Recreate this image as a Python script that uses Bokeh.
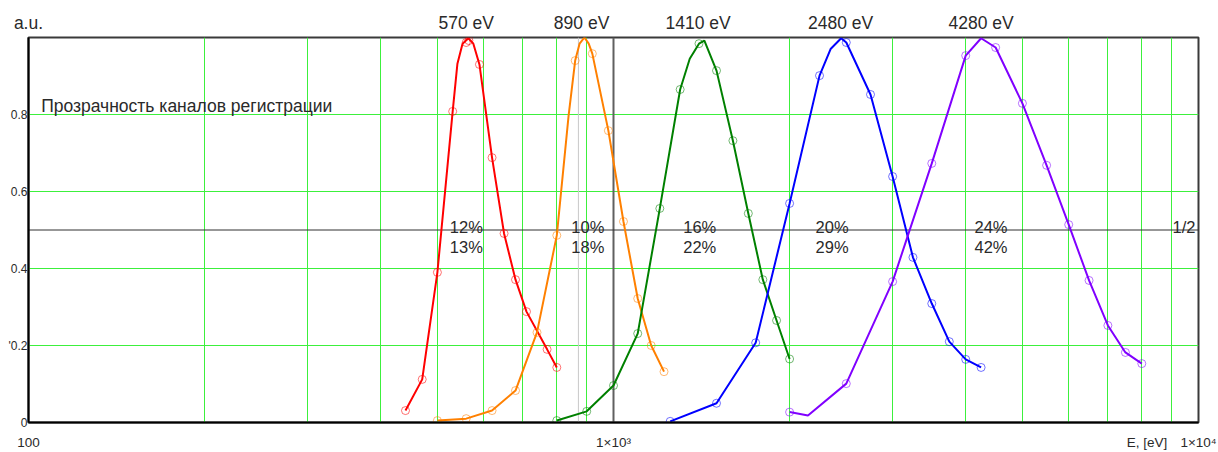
from bokeh.plotting import figure
from bokeh.models import Range1d, FixedTicker, Span, Label, LogAxis
from bokeh.embed import file_html
from bokeh.resources import INLINE
from bokeh.core.properties import value

# ---------------- data ----------------
# measured channel points (markers): energy [eV], transmission [a.u.]
red_E = [441, 471, 500, 531, 560, 566, 590, 620, 650, 680, 710, 770, 800]
red_T = [0.031, 0.112, 0.390, 0.808, 0.987, 0.992, 0.930, 0.688, 0.491, 0.371, 0.288, 0.190, 0.143]

orange_E = [500, 560, 620, 680, 740, 800, 860, 920, 980, 1040, 1100, 1160, 1220]
orange_T = [0.005, 0.010, 0.031, 0.083, 0.234, 0.486, 0.940, 0.958, 0.758, 0.522, 0.322, 0.200, 0.132]

green_E = [800, 900, 1000, 1100, 1200, 1300, 1400, 1500, 1600, 1700, 1800, 1900, 2000]
green_T = [0.005, 0.029, 0.096, 0.231, 0.556, 0.865, 0.984, 0.914, 0.732, 0.543, 0.371, 0.265, 0.165]

blue_E = [1250, 1500, 1750, 2000, 2250, 2500, 2750, 3000, 3250, 3500, 3750, 4000, 4250]
blue_T = [0.003, 0.050, 0.207, 0.569, 0.901, 0.987, 0.852, 0.639, 0.429, 0.309, 0.210, 0.164, 0.143]

violet_E = [2000, 2500, 3000, 3500, 4000, 4500, 5000, 5500, 6000, 6500, 7000, 7500, 8000]
violet_T = [0.027, 0.101, 0.366, 0.673, 0.953, 0.974, 0.829, 0.668, 0.514, 0.369, 0.252, 0.182, 0.153]

# smooth curves as traced on the picture (markers + extra traced points)
red_curve_E = [441, 471, 500, 531, 541, 552, 565, 576, 590, 620, 650, 680, 710, 770, 800]
red_curve_T = [0.031, 0.112, 0.390, 0.808, 0.932, 0.984, 0.998, 0.984, 0.930, 0.688, 0.491, 0.371, 0.288, 0.190, 0.143]

orange_curve_E = [500, 560, 620, 680, 740, 800, 838, 860, 875, 892, 907, 920, 980, 1040, 1100, 1160, 1220]
orange_curve_T = [0.005, 0.010, 0.031, 0.083, 0.234, 0.486, 0.797, 0.940, 0.984, 1.0, 0.984, 0.958, 0.758, 0.522, 0.322, 0.200, 0.132]

green_curve_E = [800, 900, 1000, 1100, 1200, 1300, 1350, 1400, 1430, 1500, 1600, 1700, 1800, 1900, 2000]
green_curve_T = [0.005, 0.029, 0.096, 0.231, 0.556, 0.865, 0.945, 0.984, 0.992, 0.914, 0.732, 0.543, 0.371, 0.265, 0.165]

blue_curve_E = [1250, 1500, 1750, 2000, 2250, 2350, 2450, 2500, 2750, 3000, 3250, 3500, 3750, 4000, 4250]
blue_curve_T = [0.003, 0.050, 0.207, 0.569, 0.901, 0.970, 0.998, 0.987, 0.852, 0.639, 0.429, 0.309, 0.210, 0.164, 0.143]

violet_curve_E = [2000, 2150, 2500, 3000, 3500, 4000, 4250, 4500, 5000, 5500, 6000, 6500, 7000, 7500, 8000]
violet_curve_T = [0.027, 0.018, 0.101, 0.366, 0.673, 0.953, 0.998, 0.974, 0.829, 0.668, 0.514, 0.369, 0.252, 0.182, 0.153]

peak_labels = ["570 eV", "890 eV", "1410 eV", "2480 eV", "4280 eV"]
pct_upper = ["12%", "10%", "16%", "20%", "24%"]
pct_lower = ["13%", "18%", "22%", "29%", "42%"]

x_ticks = [100, 1000, 10000]
x_tick_labels = ["100", "1×10³", "1×10⁴"]
y_ticks = [0, 0.2, 0.4, 0.6, 0.8]
y_tick_labels = ["0", "'0.2", "0.4", "0.6", "0.8"]
x_grid = [200, 300, 400, 500, 600, 700, 800, 900, 2000, 3000, 4000, 5000, 6000, 7000, 8000, 9000]
y_grid = [0.2, 0.4, 0.6, 0.8]
half_level = 0.5
decade_line = 1000
marker_line = 871
y_title = "a.u."
x_title = "E, [eV]"

# ---------------- layout / style constants ----------------
FONT = "Liberation Sans"
TXT = "#2a2a2a"
colors = ["#ff0000", "#ff8000", "#008000", "#0000ff", "#8000ff"]
peak_label_x = [560, 882, 1395, 2445, 4250]
y_title_x = 100
x_title_x = 8166
pct_x = [525, 847, 1316, 2215, 4141]
half_x = 9029
pct_y_upper = 0.5065
pct_y_lower = 0.456

p = figure(width=1218, height=452, x_axis_type="log",
           x_range=Range1d(100, 10000), y_range=Range1d(0, 1),
           output_backend="svg", toolbar_location=None,
           min_border_left=28, min_border_right=20,
           min_border_top=37, min_border_bottom=30)
p.background_fill_color = "white"
p.border_fill_color = "white"
p.outline_line_color = "#3a3a3a"
p.outline_line_width = 2

# axes (the x title sits on the tick-label row, as in the original)
bottom_ticks = x_ticks + [x_title_x]
bottom_labels = x_tick_labels + [x_title]
p.xaxis.ticker = FixedTicker(ticks=bottom_ticks, minor_ticks=[])
p.xaxis.major_label_overrides = {t: l for t, l in zip(bottom_ticks, bottom_labels)}
p.yaxis.ticker = FixedTicker(ticks=y_ticks, minor_ticks=[])
p.yaxis.major_label_overrides = {t: l for t, l in zip(y_ticks, y_tick_labels)}
for ax in (p.xaxis, p.yaxis):
    ax.axis_line_color = "black"
    ax.axis_line_width = 2
    ax.major_tick_line_color = None
    ax.minor_tick_line_color = None
    ax.major_label_text_font = FONT
    ax.major_label_text_color = TXT
p.xaxis.major_label_text_font_size = "13.5px"
p.yaxis.major_label_text_font_size = "12px"
p.xaxis.major_label_standoff = 6
p.yaxis.major_label_standoff = -5

# "a.u." and peak energy labels above the frame (axis without line or ticks)
top_ticks = [y_title_x] + peak_label_x
top_labels = [y_title] + peak_labels
top_axis = LogAxis(ticker=FixedTicker(ticks=top_ticks, minor_ticks=[]),
                   major_label_overrides={t: l for t, l in zip(top_ticks, top_labels)},
                   axis_line_color=None, major_tick_line_color=None,
                   minor_tick_line_color=None, major_label_standoff=-1,
                   major_label_text_font=FONT, major_label_text_font_size="17.5px",
                   major_label_text_color=TXT)
p.add_layout(top_axis, "above")

# grid
p.xgrid.ticker = FixedTicker(ticks=x_grid)
p.ygrid.ticker = FixedTicker(ticks=y_grid)
for g in (p.xgrid, p.ygrid):
    g.grid_line_color = "#3cf03c"
    g.grid_line_width = 1

p.add_layout(Span(location=marker_line, dimension="height", line_color="#c8c8c8",
                  line_width=1, level="underlay"))
p.add_layout(Span(location=decade_line, dimension="height", line_color="#606060",
                  line_width=2, level="underlay"))
p.add_layout(Span(location=half_level, dimension="width", line_color="#303030",
                  line_width=1, level="underlay"))

# curves
series = [
    (red_curve_E, red_curve_T, red_E, red_T),
    (orange_curve_E, orange_curve_T, orange_E, orange_T),
    (green_curve_E, green_curve_T, green_E, green_T),
    (blue_curve_E, blue_curve_T, blue_E, blue_T),
    (violet_curve_E, violet_curve_T, violet_E, violet_T),
]
for (cx, cy, mx, my), c in zip(series, colors):
    p.line(cx, cy, line_color=c, line_width=2)
    p.scatter(mx, my, marker="circle", size=8, fill_color=None,
              line_color=c, line_alpha=0.55, line_width=1)

# percent labels inside the frame
p.text(x=pct_x + [half_x], y=[pct_y_upper] * 6, text=pct_upper + ["1/2"],
       text_font=value(FONT), text_font_size=value("16.5px"),
       text_color=TXT, text_align="left", text_baseline="alphabetic")
p.text(x=pct_x, y=[pct_y_lower] * 5, text=pct_lower,
       text_font=value(FONT), text_font_size=value("16.5px"),
       text_color=TXT, text_align="left", text_baseline="alphabetic")

p.add_layout(Label(x=105.1, y=0.821, text="Прозрачность каналов регистрации",
                   text_font=FONT, text_font_size="17.5px", text_color=TXT,
                   text_align="left", text_baseline="alphabetic"))

open("out.html", "w").write(file_html(p, INLINE))
